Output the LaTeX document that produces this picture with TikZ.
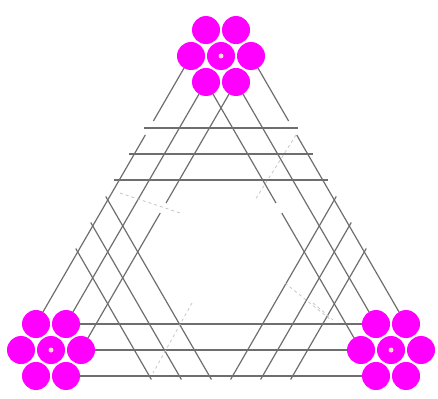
\documentclass[tikz,border=0pt]{standalone}
\usetikzlibrary{calc}
\definecolor{wiregray}{HTML}{6E6E6E}
\definecolor{strandpink}{HTML}{FF00FF}
\begin{document}
\begin{tikzpicture}[x=1pt,y=-1pt,
  wire/.style={wiregray,line width=1.2pt},
  hidden/.style={black!22,dashed,line width=0.8pt}]
\useasboundingbox (0,0) rectangle (438,398);
% centres of the three strands and their outer wires
\coordinate (T) at (221,56); \coordinate (L) at (51,350); \coordinate (R) at (391,350);
\foreach \b in {T,L,R} {\foreach \a in {0,60,...,300} \coordinate (\b\a) at ($(\b)+(\a:30)$);}
% corners of the outer triangle
\coordinate (VT) at (221,4); \coordinate (VL) at (6.2,376); \coordinate (VR) at (435.8,376);
% left side
\draw[wire] (T180)--($(T180)!0.2425!(L240)$); \draw[wire] ($(T180)!0.2948!(L240)$)--(L240);
\draw[wire] (T120)--(L300);
\draw[wire] (T60)--($(T60)!0.4515!(L0)$); \draw[wire] ($(T60)!0.4888!(L0)$)--(L0);
% right side
\draw[wire] (T0)--($(T0)!0.2425!(R300)$); \draw[wire] ($(T0)!0.2948!(R300)$)--(R300);
\draw[wire] (T60)--(R240);
\draw[wire] (T120)--($(T120)!0.4515!(R180)$); \draw[wire] ($(T120)!0.4888!(R180)$)--(R180);
% bottom
\draw[wire] (L300)--(R240); \draw[wire] (L0)--(R180); \draw[wire] (L60)--(R120);
% wires across the corners
\foreach \d in {124,150,176} {
  \draw[wire] ($(VT)+(-0.577*\d-5,\d)$) -- ($(VT)+(0.577*\d+5,\d)$);
  \draw[wire] ($(VL)+(0.577*\d-2,-\d-3.5)$) -- ($(VL)+(1.1547*\d+2,3.5)$);
  \draw[wire] ($(VR)+(-0.577*\d+2,-\d-3.5)$) -- ($(VR)+(-1.1547*\d-2,3.5)$);
}
% faint back lines
\draw[hidden] (120,193)--(180,213);
\draw[hidden] (296,135)--(255,200);
\draw[hidden] (192,303)--(153,373);
\draw[hidden] (285,283)--(331,320);
\draw[hidden] (313,303)--(333,320);
% the strands
\foreach \b in {T,L,R} {
  \fill[strandpink] (\b) circle (14);
  \foreach \a in {0,60,...,300} \fill[strandpink] (\b\a) circle (14);
  \fill[pink!60!white] (\b) circle (2.5);
}
\end{tikzpicture}
\end{document}
